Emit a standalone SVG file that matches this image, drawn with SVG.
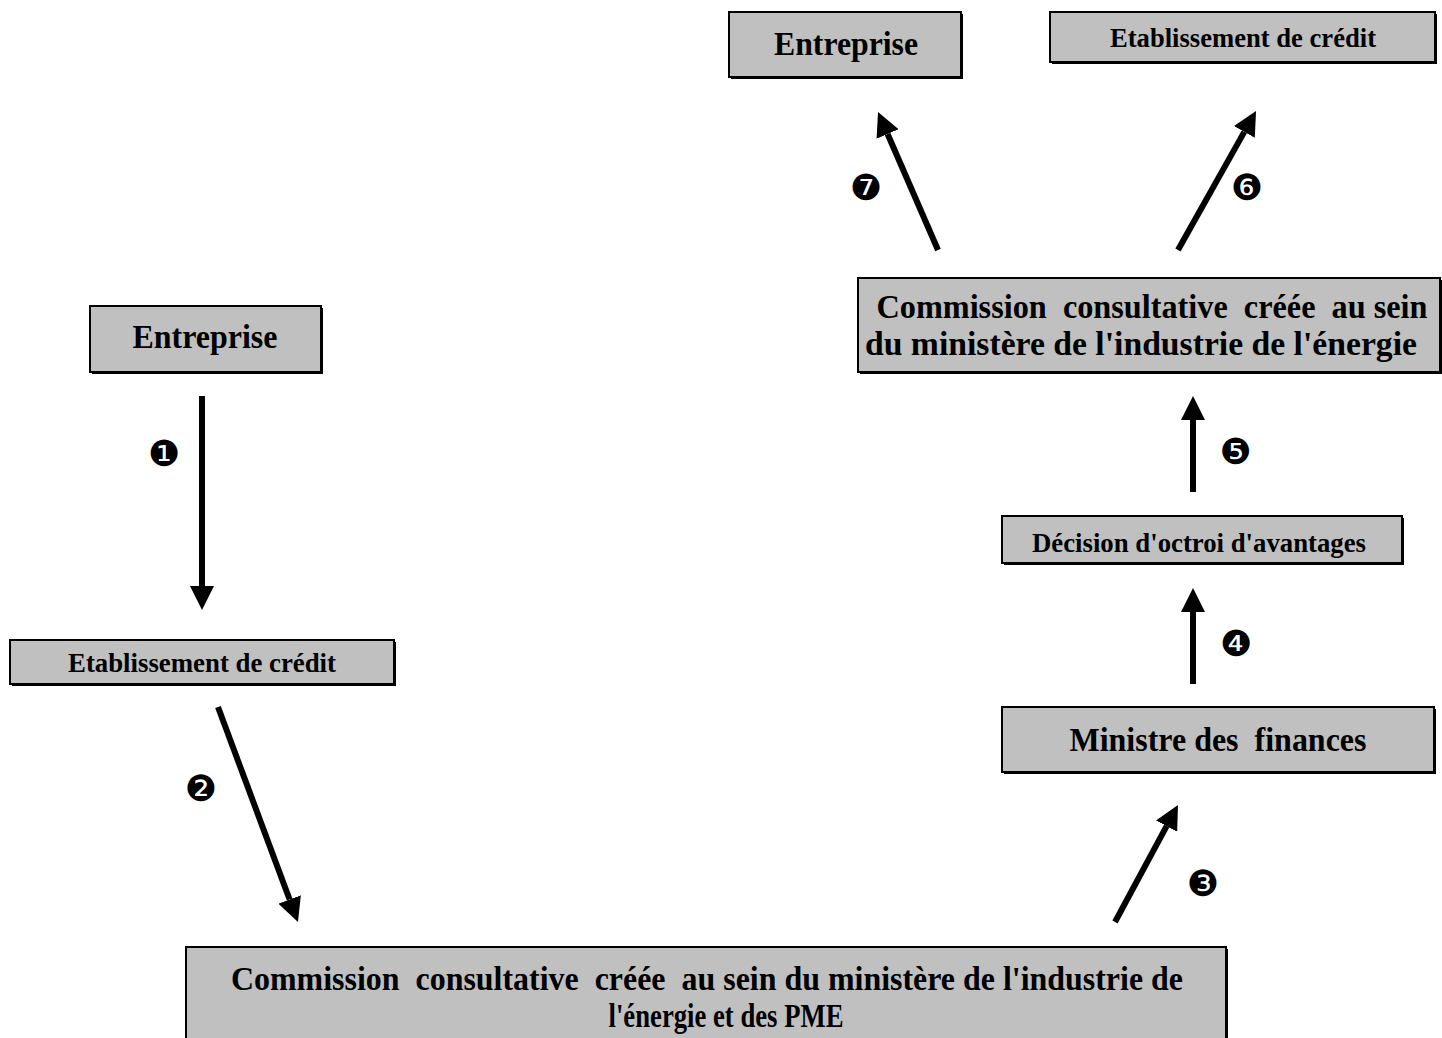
<svg xmlns="http://www.w3.org/2000/svg" width="1442" height="1038" viewBox="0 0 1442 1038">
<style>
.box{fill:#c0c0c0;stroke:#000;stroke-width:2}
.sh{fill:#000}
.t{font-family:"Liberation Serif","Times New Roman",serif;font-weight:bold;fill:#000;text-anchor:middle;white-space:pre}
.L{font-size:33px}
.S{font-size:27px}
.n{font-family:"DejaVu Sans",sans-serif;font-size:36px;fill:#000;text-anchor:middle;dominant-baseline:central}
.ar{stroke:#000;stroke-width:6;fill:none;marker-end:url(#ah)}
</style>
<defs>
<marker id="ah" viewBox="0 0 24 24" markerUnits="userSpaceOnUse" markerWidth="24" markerHeight="24" refX="0" refY="12" orient="auto">
<path d="M0,0 L24,12 L0,24 z" fill="#000"/>
</marker>
</defs>
<rect width="1442" height="1038" fill="#fff"/>

<g id="entreprise-top">
<rect class="sh" x="731" y="14" width="232" height="65"/>
<rect class="box" x="729" y="12" width="232" height="65"/>
<text class="t L" x="846" y="55" textLength="144" lengthAdjust="spacingAndGlyphs">Entreprise</text>
</g>
<g id="etab-top">
<rect class="sh" x="1052" y="14" width="385" height="50"/>
<rect class="box" x="1050" y="12" width="385" height="50"/>
<text class="t S" x="1243" y="47" textLength="266" lengthAdjust="spacingAndGlyphs">Etablissement de crédit</text>
</g>
<g id="commission-top">
<rect class="sh" x="860" y="280" width="582" height="94"/>
<rect class="box" x="858" y="278" width="582" height="94"/>
<text class="t L" x="1152" y="318" textLength="551" lengthAdjust="spacingAndGlyphs">Commission  consultative  créée  au sein</text>
<text class="t L" x="1141" y="355" textLength="552" lengthAdjust="spacingAndGlyphs">du ministère de l'industrie de l'énergie</text>
</g>
<g id="entreprise-left">
<rect class="sh" x="92" y="308" width="231" height="66"/>
<rect class="box" x="90" y="306" width="231" height="66"/>
<text class="t L" x="205" y="348" textLength="145" lengthAdjust="spacingAndGlyphs">Entreprise</text>
</g>
<g id="etab-left">
<rect class="sh" x="12" y="642" width="384" height="44"/>
<rect class="box" x="10" y="640" width="384" height="44"/>
<text class="t S" x="202" y="672" textLength="268" lengthAdjust="spacingAndGlyphs">Etablissement de crédit</text>
</g>
<g id="decision">
<rect class="sh" x="1004" y="518" width="400" height="47"/>
<rect class="box" x="1002" y="516" width="400" height="47"/>
<text class="t S" x="1199" y="552" textLength="334" lengthAdjust="spacingAndGlyphs">Décision d'octroi d'avantages</text>
</g>
<g id="ministre">
<rect class="sh" x="1004" y="709" width="432" height="65"/>
<rect class="box" x="1002" y="707" width="432" height="65"/>
<text class="t L" x="1218" y="751" textLength="297" lengthAdjust="spacingAndGlyphs">Ministre des  finances</text>
</g>
<g id="commission-bottom">
<rect class="sh" x="188" y="949" width="1040" height="100"/>
<rect class="box" x="186" y="947" width="1040" height="100"/>
<text class="t L" x="707" y="990" textLength="952" lengthAdjust="spacingAndGlyphs">Commission  consultative  créée  au sein du ministère de l'industrie de</text>
<text class="t L" x="726" y="1027" textLength="235" lengthAdjust="spacingAndGlyphs">l'énergie et des PME</text>
</g>

<g id="connectors">
<line class="ar" x1="202" y1="396" x2="202" y2="586"/>
<line class="ar" x1="218" y1="707" x2="289.6" y2="899.5"/>
<line class="ar" x1="1115" y1="922" x2="1166.6" y2="826.1"/>
<line class="ar" x1="1193" y1="684" x2="1193" y2="612"/>
<line class="ar" x1="1193" y1="492" x2="1193" y2="420"/>
<line class="ar" x1="1178" y1="250" x2="1244.3" y2="131.9"/>
<line class="ar" x1="938" y1="250" x2="887.6" y2="134"/>
</g>
<g id="labels">
<text class="n" x="164" y="453">❶</text>
<text class="n" x="201" y="788">❷</text>
<text class="n" x="1203" y="883">❸</text>
<text class="n" x="1236" y="643">❹</text>
<text class="n" x="1236" y="451">❺</text>
<text class="n" x="1247" y="187">❻</text>
<text class="n" x="866" y="187">❼</text>
</g>
</svg>
